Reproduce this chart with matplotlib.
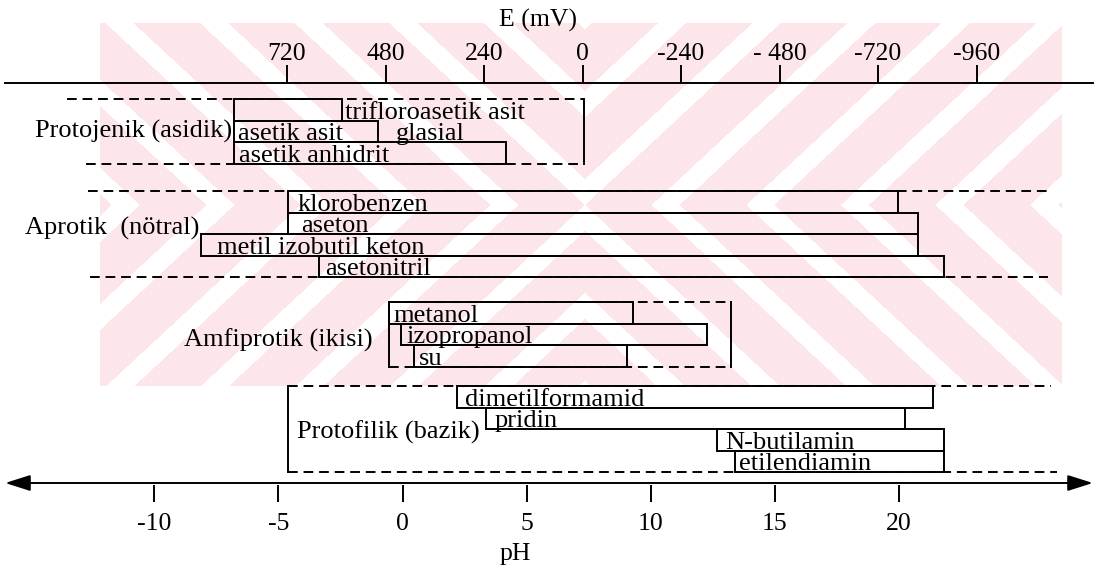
import numpy as np
import matplotlib
matplotlib.use('Agg')
import matplotlib.pyplot as plt
from matplotlib.colors import ListedColormap
from matplotlib.patches import Rectangle

plt.rcParams['font.family'] = ['Liberation Serif', 'DejaVu Serif']
plt.rcParams['axes.unicode_minus'] = False

# axis ticks
ph_ticks = [-10, -5, 0, 5, 10, 15, 20]
e_ticks = [720, 480, 240, 0, -240, -480, -720, -960]
e_labels = ['720', '480', '240', '0', '-240', '- 480', '-720', '-960']

# pH working range of each solvent (lo -> hi)
protojenik = ['trifloroasetik asit', 'asetik asit', 'asetik anhidrit']
protojenik_lo = [-6.8, -6.8, -6.8]
protojenik_hi = [-2.45, -1.0, 4.15]

aprotik = ['klorobenzen', 'aseton', 'metil izobutil keton', 'asetonitril']
aprotik_lo = [-4.6, -4.6, -8.1, -3.35]
aprotik_hi = [19.95, 20.75, 20.75, 21.8]

amfiprotik = ['metanol', 'izopropanol', 'su']
amfiprotik_lo = [-0.55, -0.05, 0.45]
amfiprotik_hi = [9.3, 12.25, 9.05]

protofilik = ['dimetilformamid', 'pridin', 'N-butilamin', 'etilendiamin']
protofilik_lo = [2.2, 3.35, 12.65, 13.4]
protofilik_hi = [21.35, 20.25, 21.8, 21.8]

# dashed class frames (top lo, bottom lo, top hi, bottom hi)
protojenik_frame = [-13.5, -12.75, 7.3, 7.3]
aprotik_frame = [-12.65, -12.6, 26.1, 26.0]
amfiprotik_frame = [-0.55, -0.55, 13.25, 13.25]
protofilik_frame = [-4.6, -4.6, 26.1, 26.35]


def ph_to_e(p):
    return 60.5 * (7.25 - p)


def e_to_ph(e):
    return 7.25 - e / 60.5


W, H = 1098, 569
ROW = 21.6
LW = 1.4
FS = 19
TFS = 18.5

fig = plt.figure(figsize=(W / 100, H / 100), dpi=100)

# faint watermark in the background
bg = fig.add_axes([0, 0, 1, 1], zorder=0)
yy, xx = np.mgrid[0:H, 0:W] + 0.5
d = np.abs(xx - 585) * 0.93 - np.abs(yy - 205)
wm = (np.mod(d, 88) < 62) & (yy > 23) & (yy < 386) & (xx > 100) & (xx < 1062)
bg.imshow(wm, cmap=ListedColormap(['white', '#fde6ea']), vmin=0, vmax=1,
          extent=(0, W, H, 0), interpolation='nearest', aspect='auto')
bg.axis('off')

ax = fig.add_axes([0, 0, 1, 1], zorder=1)
ax.set_facecolor('none')
ax.set_xlim(-402.5 / 24.83, (W - 402.5) / 24.83)
ax.set_ylim(H, 0)
ax.yaxis.set_visible(False)
for s in ['top', 'left', 'right']:
    ax.spines[s].set_visible(False)
ax.spines['bottom'].set_position(('data', 485))
ax.spines['bottom'].set_visible(False)
ax.set_xticks(ph_ticks)
ax.tick_params(axis='x', direction='out', length=12, width=LW, pad=8, labelsize=TFS)

# pH axis with arrows at both ends
ax.annotate('', xy=(27.8, 483), xytext=(-16.0, 483),
            arrowprops=dict(arrowstyle='<|-|>,head_length=1.1,head_width=0.35',
                            mutation_scale=14, lw=LW, color='k', shrinkA=0, shrinkB=0))

# E (mV) axis on top
ax.plot([-16.0, 27.8], [83, 83], color='k', lw=LW)
sec = ax.secondary_xaxis(1 - 83 / H, functions=(ph_to_e, e_to_ph))
sec.set_xticks(e_ticks, labels=e_labels)
sec.tick_params(direction='out', length=13, width=LW, pad=0, labelsize=TFS)
for s in sec.spines.values():
    s.set_visible(False)

fig.text(538 / W, 1 - 20 / H, 'E (mV)', ha='center', va='center', fontsize=TFS)
fig.text(515 / W, 1 - 554 / H, 'pH', ha='center', va='center', fontsize=TFS)


def frame(fr, top, n, solid_left=False, solid_right=False):
    bot = top + n * ROW
    ax.plot([fr[0], fr[2]], [top, top], color='k', lw=LW, ls=(0, (5, 3)))
    ax.plot([fr[1], fr[3]], [bot, bot], color='k', lw=LW, ls=(0, (5, 3)))
    if solid_left:
        ax.plot([fr[0], fr[0]], [top, bot], color='k', lw=LW)
    if solid_right:
        ax.plot([fr[2], fr[2]], [top, bot], color='k', lw=LW)


def rows(names, lo, hi, top, dx, at_end=()):
    for i, (n, a, b) in enumerate(zip(names, lo, hi)):
        y0 = top + i * ROW
        ax.add_patch(Rectangle((a, y0), b - a, ROW, fill=False, ec='k', lw=LW, zorder=3))
        x = b if n in at_end else a
        ax.annotate(n, (x, y0 + ROW), xytext=(dx[i], 2), textcoords='offset pixels',
                    va='baseline', fontsize=FS)


# Protojenik
frame(protojenik_frame, 99, 3, solid_right=True)
rows(protojenik, protojenik_lo, protojenik_hi, 99, [3, 4, 5], at_end=['trifloroasetik asit'])
ax.annotate('glasial', (protojenik_hi[1], 99 + 2 * ROW), xytext=(18, 2),
            textcoords='offset pixels', va='baseline', fontsize=FS)
ax.annotate('Protojenik (asidik)', (protojenik_lo[0], 131), xytext=(-2, 0),
            textcoords='offset pixels', ha='right', va='center', fontsize=FS)

# Aprotik
frame(aprotik_frame, 191, 4)
rows(aprotik, aprotik_lo, aprotik_hi, 191, [9, 13, 16, 6])
ax.annotate('Aprotik  (nötral)', (aprotik_lo[2], 228), xytext=(-2, 0),
            textcoords='offset pixels', ha='right', va='center', fontsize=FS)

# Amfiprotik
frame(amfiprotik_frame, 302, 3, solid_left=True, solid_right=True)
rows(amfiprotik, amfiprotik_lo, amfiprotik_hi, 302, [5, 5, 5])
ax.annotate('Amfiprotik (ikisi)', (amfiprotik_frame[0], 340), xytext=(-16, 0),
            textcoords='offset pixels', ha='right', va='center', fontsize=FS)

# Protofilik
frame(protofilik_frame, 386, 4, solid_left=True)
rows(protofilik, protofilik_lo, protofilik_hi, 386, [8, 9, 9, 4])
ax.annotate('Protofilik (bazik)', (protofilik_frame[0], 432), xytext=(9, 0),
            textcoords='offset pixels', ha='left', va='center', fontsize=FS)

fig.savefig('out.png', dpi=100)
